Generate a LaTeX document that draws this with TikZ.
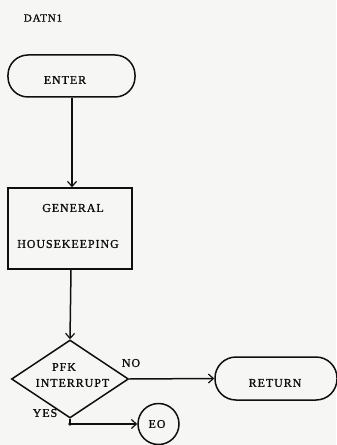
\documentclass[tikz,border=0pt]{standalone}
\usepackage{fontspec}
\setmainfont{Liberation Serif}[LetterSpace=8,FakeBold=1.2]
\usetikzlibrary{arrows.meta,shapes.geometric}
\definecolor{paper}{RGB}{246,246,244}
\definecolor{ink}{RGB}{15,15,15}
\tikzset{
  flow/.style={draw=ink,line width=1.5bp},
  termbox/.style={flow,rectangle,rounded corners=20bp,inner sep=0pt},
  procbox/.style={flow,rectangle,inner sep=0pt},
  decbox/.style={flow,diamond,inner sep=0pt},
  connbox/.style={flow,circle,inner sep=0pt},
  txt/.style={text=ink,font=\fontsize{12}{14}\selectfont,inner sep=0pt},
  conn/.style={flow,-{Straight Barb[length=5bp,width=9bp,line width=1.2bp]}},
}
\begin{document}
\begin{tikzpicture}[x=1bp,y=-1bp]
\fill[paper] (0,0) rectangle (336,445);
\useasboundingbox (0,0) rectangle (336,445);
\node[txt,font=\fontsize{11}{13}\selectfont] (title) at (43,18) {DATN1};
% shapes
\node[termbox,minimum width=127bp,minimum height=42bp] (enter) at (71.5,76) {};
\node[procbox,minimum width=124bp,minimum height=81bp] (hk) at (70,228.5) {};
\node[decbox,minimum width=117bp,minimum height=78bp] (pfk) at (70,379) {};
\node[termbox,minimum width=122bp,minimum height=43bp,rounded corners=21bp] (ret) at (276,378.5) {};
\node[connbox,minimum size=41bp] (eo) at (158.5,424) {};
% texts
\node[txt] (entert) at (65,80) {ENTER};
\node[txt] (gent) at (73,208) {GENERAL};
\node[txt] (hkt) at (68,244) {HOUSEKEEPING};
\node[txt] (pfkt) at (64,367) {PFK};
\node[txt] (intt) at (72.5,383) {INTERRUPT};
\node[txt] (not) at (131,363) {NO};
\node[txt] (yest) at (45,413) {YES};
\node[txt] (rett) at (275,383) {RETURN};
\node[txt] (eot) at (157,424) {EO};
% connectors
\coordinate (bend) at (pfk.south |- eo.west);
\draw[conn] (enter.south -| 72,0) -- (hk.north -| 72,0);
\draw[conn] (hk.south -| 71,0) -- (pfk.north);
\draw[conn] (pfk.east) -- (ret.west);
\draw[flow] (pfk.south) -- (bend);
\fill[ink] (bend) circle (1.8bp);
\draw[conn] (bend) -- (eo.west);
\end{tikzpicture}
\end{document}
